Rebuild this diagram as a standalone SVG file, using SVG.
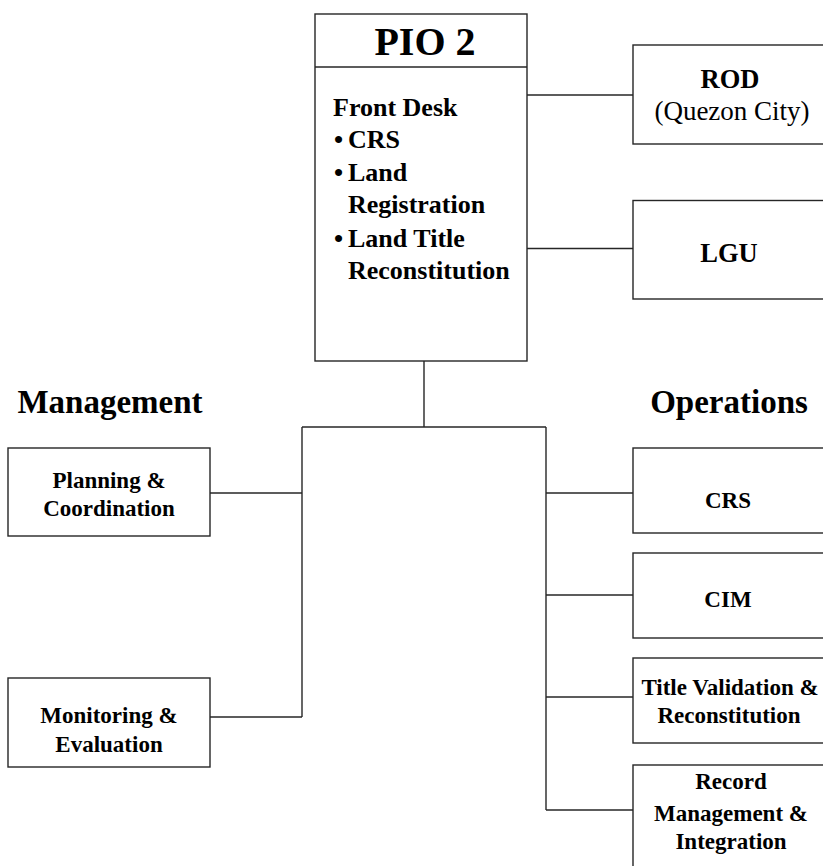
<svg xmlns="http://www.w3.org/2000/svg" width="823" height="866" viewBox="0 0 823 866">
<style>
.box{fill:#fff;stroke:#262626;stroke-width:1.4}
.ln{fill:none;stroke:#262626;stroke-width:1.4}
text{font-family:"Liberation Serif","Times New Roman",serif;fill:#000}
.b{font-weight:bold}
.lbl{font-weight:bold;font-size:23px;text-anchor:middle}
.big{font-weight:bold;font-size:26.5px;text-anchor:middle}
.hd{font-weight:bold;font-size:33px;text-anchor:middle}
.fd{font-weight:bold;font-size:26px}
</style>
<rect width="823" height="866" fill="#fff"/>
<g id="connectors">
<line class="ln" x1="527" y1="95" x2="633" y2="95"/>
<line class="ln" x1="527" y1="248.5" x2="633" y2="248.5"/>
<line class="ln" x1="424" y1="361" x2="424" y2="427"/>
<line class="ln" x1="302" y1="427" x2="546" y2="427"/>
<line class="ln" x1="302" y1="427" x2="302" y2="717"/>
<line class="ln" x1="210" y1="493" x2="302" y2="493"/>
<line class="ln" x1="210" y1="717" x2="302" y2="717"/>
<line class="ln" x1="546" y1="427" x2="546" y2="810"/>
<line class="ln" x1="546" y1="493" x2="633" y2="493"/>
<line class="ln" x1="546" y1="595" x2="633" y2="595"/>
<line class="ln" x1="546" y1="697" x2="633" y2="697"/>
<line class="ln" x1="546" y1="810" x2="633" y2="810"/>
</g>
<g id="pio2">
<rect class="box" x="315" y="14" width="212" height="347"/>
<line class="ln" x1="315" y1="67" x2="527" y2="67"/>
<text x="425" y="55" class="b" font-size="40" text-anchor="middle">PIO 2</text>
<text x="333" y="116" class="fd">Front Desk</text>
<text x="334" y="148" class="fd">•</text>
<text x="348" y="148" class="fd">CRS</text>
<text x="334" y="181" class="fd">•</text>
<text x="348" y="181" class="fd">Land</text>
<text x="348" y="213" class="fd">Registration</text>
<text x="334" y="247" class="fd">•</text>
<text x="348" y="247" class="fd">Land Title</text>
<text x="348" y="279" class="fd">Reconstitution</text>
</g>
<g id="rod">
<rect class="box" x="633" y="45" width="200" height="99"/>
<text x="730" y="88" class="big">ROD</text>
<text x="732" y="120" font-size="27" text-anchor="middle">(Quezon City)</text>
</g>
<g id="lgu">
<rect class="box" x="633" y="200.5" width="200" height="98.5"/>
<text x="729" y="262" class="big">LGU</text>
</g>
<g id="management-title">
<text x="110" y="413" class="hd">Management</text>
</g>
<g id="operations-title">
<text x="729" y="413" class="hd">Operations</text>
</g>
<g id="planning">
<rect class="box" x="8" y="448" width="202" height="88"/>
<text x="109" y="488" class="lbl">Planning &amp;</text>
<text x="109" y="516" class="lbl">Coordination</text>
</g>
<g id="monitoring">
<rect class="box" x="8" y="678" width="202" height="89"/>
<text x="109" y="723" class="lbl">Monitoring &amp;</text>
<text x="109" y="752" class="lbl">Evaluation</text>
</g>
<g id="crs">
<rect class="box" x="633" y="448" width="200" height="85"/>
<text x="728" y="508" class="lbl">CRS</text>
</g>
<g id="cim">
<rect class="box" x="633" y="553" width="200" height="85"/>
<text x="728" y="607" class="lbl">CIM</text>
</g>
<g id="title-validation">
<rect class="box" x="633" y="658" width="200" height="85"/>
<text x="730" y="695" class="lbl">Title Validation &amp;</text>
<text x="729" y="723" class="lbl">Reconstitution</text>
</g>
<g id="record-management">
<rect class="box" x="633" y="765" width="200" height="120"/>
<text x="731" y="789" class="lbl">Record</text>
<text x="731" y="821" class="lbl">Management &amp;</text>
<text x="731" y="849" class="lbl">Integration</text>
</g>
</svg>
